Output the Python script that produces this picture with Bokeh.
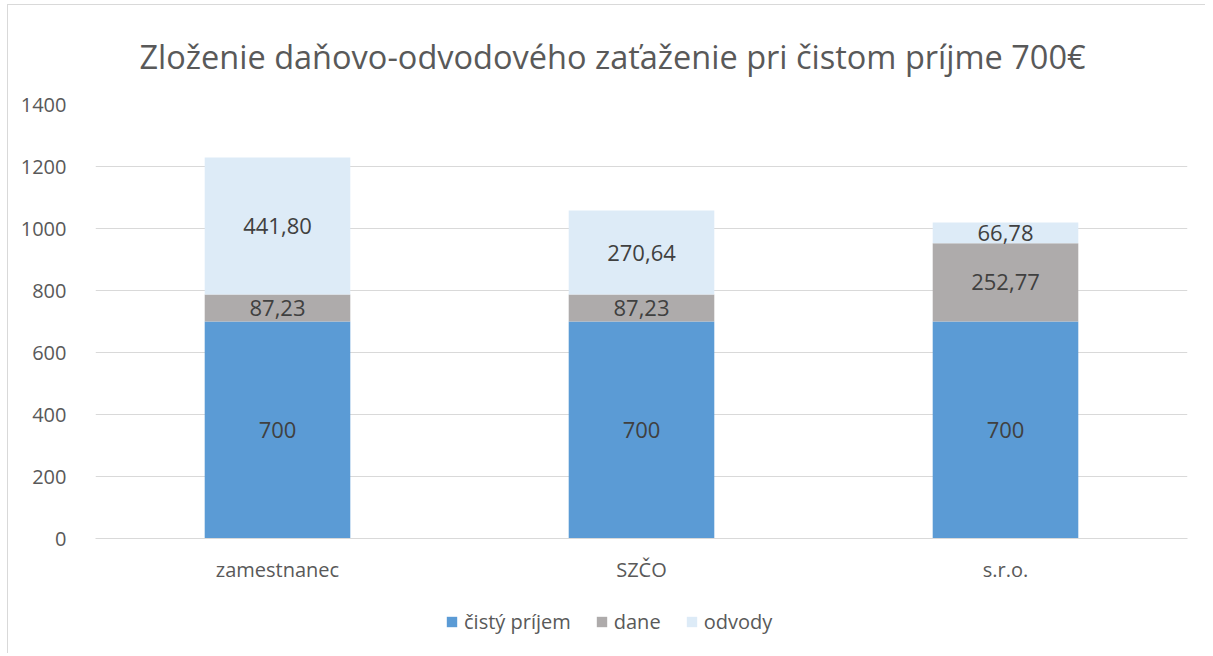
from bokeh.plotting import figure
from bokeh.layouts import column
from bokeh.models import ColumnDataSource, FactorRange, FixedTicker, LabelSet, Legend, LegendItem, Range1d
from bokeh.core.properties import value
from bokeh.embed import file_html
from bokeh.resources import INLINE

categories = ["zamestnanec", "SZČO", "s.r.o."]
series = ["cisty", "dane", "odvody"]
series_names = ["čistý príjem", "dane", "odvody"]
cisty = [700, 700, 700]
dane = [87.23, 87.23, 252.77]
odvody = [441.80, 270.64, 66.78]
y_ticks = [0, 200, 400, 600, 800, 1000, 1200, 1400]
title_text = "Zloženie daňovo-odvodového zaťaženie pri čistom príjme 700€"

colors = ["#5B9BD5", "#AEABAB", "#DDEBF7"]
FONT = "Open Sans"
TXT = "#595959"

src = ColumnDataSource(dict(cat=categories, cisty=cisty, dane=dane, odvody=odvody))

p = figure(width=1197, height=590, x_range=FactorRange(*categories, range_padding=0),
           y_range=Range1d(0, 1400), output_backend="svg", toolbar_location=None,
           min_border_left=87, min_border_right=18, min_border_top=98, min_border_bottom=57)
p.outline_line_color = None

renderers = p.vbar_stack(series, x="cat", width=0.4, source=src, color=colors, line_color=None)

# data labels
lab_x, lab_y, lab_t = [], [], []
for i, c in enumerate(categories):
    base = 0
    for vals in (cisty, dane, odvody):
        v = vals[i]
        lab_x.append(c)
        lab_y.append(base + v / 2)
        lab_t.append(("%.2f" % v).replace(".", ",") if v != int(v) else str(int(v)))
        base += v
lsrc = ColumnDataSource(dict(x=lab_x, y=lab_y, t=lab_t))
p.add_layout(LabelSet(x="x", y="y", text="t", source=lsrc, text_align="center", text_baseline="middle",
                      text_font=value(FONT), text_font_size="22px", text_color="#404040"))

p.title.text = title_text
p.title.text_font = FONT
p.title.text_font_size = "32.5px"
p.title.text_font_style = "normal"
p.title.text_color = TXT
p.title.align = "left"
p.title.offset = 44
p.title.standoff = 52

p.yaxis.ticker = FixedTicker(ticks=y_ticks)
p.yaxis.axis_line_color = None
p.yaxis.major_tick_line_color = None
p.yaxis.minor_tick_line_color = None
p.yaxis.major_label_text_font = FONT
p.yaxis.major_label_text_font_size = "20px"
p.yaxis.major_label_text_color = TXT
p.yaxis.major_label_standoff = 23

p.xaxis.axis_line_color = "#d9d9d9"
p.xaxis.major_tick_line_color = None
p.xaxis.minor_tick_line_color = None
p.xaxis.major_label_text_font = FONT
p.xaxis.major_label_text_font_size = "20px"
p.xaxis.major_label_text_color = TXT
p.xaxis.major_label_standoff = 11

p.xgrid.grid_line_color = None
p.ygrid.grid_line_color = "#d9d9d9"
p.ygrid.ticker = FixedTicker(ticks=y_ticks)

# legend strip below the chart
lf = figure(width=1197, height=58, x_range=Range1d(0, 1), y_range=Range1d(0, 1),
            output_backend="svg", toolbar_location=None,
            min_border_left=0, min_border_right=0, min_border_top=0, min_border_bottom=0)
lf.axis.visible = False
lf.grid.visible = False
lf.outline_line_color = None
dummy = [lf.vbar(x=[0.5], top=[0], bottom=[0], width=0.0, fill_color=c, line_color=None) for c in colors]
legend = Legend(items=[LegendItem(label=n, renderers=[r]) for n, r in zip(series_names, dummy)],
                orientation="horizontal", location=(350, 18), border_line_color=None,
                background_fill_alpha=0,
                label_text_font=FONT, label_text_font_size="20px", label_text_color=TXT,
                glyph_width=13, glyph_height=13, spacing=24, label_standoff=6, padding=4, margin=0)
lf.add_layout(legend)

layout = column(p, lf, spacing=0, margin=(4, 0, 0, 7),
                styles={"border-top": "1px solid #d9d9d9", "border-left": "1px solid #d9d9d9"})

open("out.html", "w").write(file_html(layout, INLINE))
